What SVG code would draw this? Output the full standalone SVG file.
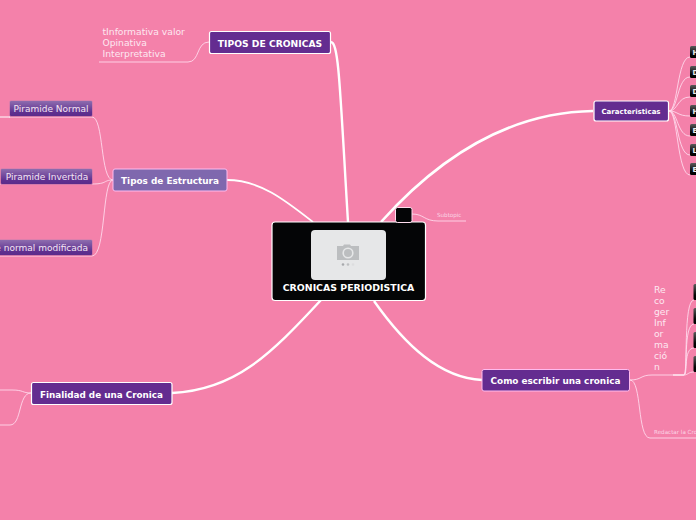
<svg xmlns="http://www.w3.org/2000/svg" width="696" height="520" viewBox="0 0 696 520">
<style>
text{font-family:"DejaVu Sans",Verdana,sans-serif}
.main{stroke:#fff;stroke-width:1.2}
.t{fill:#fff;font-weight:bold;text-anchor:middle}
.c{fill:none;stroke:#fde;stroke-width:1;stroke-opacity:.85}
.c2{fill:none;stroke:#fff;stroke-width:2.2}
.lbl{fill:#fde8f1}
.sub{stroke:#ee86ad;stroke-width:.6}
.b{fill:url(#blk)}
.k{fill:#eee;font-size:7px;font-weight:bold}
</style>
<defs>
<linearGradient id="pur" x1="0" y1="0" x2="0" y2="1"><stop offset="0" stop-color="#8f6fb0"/><stop offset=".75" stop-color="#5f2f8f"/><stop offset="1" stop-color="#5b2a8a"/></linearGradient>
<linearGradient id="blk" x1="0" y1="0" x2="0" y2="1"><stop offset="0" stop-color="#5a5a5a"/><stop offset=".7" stop-color="#050505"/><stop offset="1" stop-color="#000"/></linearGradient>
</defs>
<rect width="696" height="520" fill="#f481aa"/>
<g id="connectors">
<path class="c2" d="M331 42C339 43 340 90 348 222" style="stroke-width:2.4"/>
<path class="c2" d="M227 180C260 180 285 200 313 222" style="stroke-width:1.8"/>
<path class="c2" d="M593 111C520 112 450 145 381 222" style="stroke-width:2.6"/>
<path class="c2" d="M172 393C235 390 270 355 321 300" style="stroke-width:2.4"/>
<path class="c2" d="M482 380C440 378 405 345 374 301" style="stroke-width:2.4"/>
<path class="c" d="M209 42C196 42 200 62 188 62L99 62"/>
<path class="c" d="M113 180C100 180 104 117 92 117L9 117"/>
<path class="c2" d="M0 117L10 117" style="stroke-width:1"/>
<path class="c" d="M113 180C103 180 108 184 92 184L0 184"/>
<path class="c" d="M113 180C102 180 106 256 92 256L0 256"/>
<path class="c" d="M31 393C22 393 24 390 12 390L0 390"/>
<path class="c" d="M31 393C18 393 22 425 10 425L0 425"/>
<path class="c" d="M412 214C424 214 424 221 438 221L466 221"/>
<path class="c" d="M669 111C678 111 677 57 690 57"/>
<path class="c" d="M669 111C678 111 677 77 690 77"/>
<path class="c" d="M669 111C678 111 677 97 690 97"/>
<path class="c" d="M669 111C678 111 677 116 690 116"/>
<path class="c" d="M669 111C678 111 677 136 690 136"/>
<path class="c" d="M669 111C678 111 677 155 690 155"/>
<path class="c" d="M669 111C678 111 677 175 690 175"/>
<path class="c" d="M630 380C642 380 640 375 652 375L684 375"/>
<path class="c" d="M630 380C642 380 637 438 650 438L696 438"/>
<path class="c" d="M684 375C688 375 683 300 694 300"/>
<path class="c" d="M684 375C688 375 683 324 694 324"/>
<path class="c" d="M684 375C688 375 683 348 694 348"/>
<path class="c" d="M684 375C688 375 688 372 694 372"/>
<path class="c2" d="M673 375L684 375" style="stroke-width:1"/>
</g>
<g id="root">
<rect x="272" y="222" width="153.500" height="78.500" rx="3" fill="#040506" class="main"/>
<rect x="311" y="230" width="75" height="50" rx="4" fill="#e6e7e8"/>
<path d="M337 246h6l1-1.500h6l1 1.500h8v14h-22z" fill="#bcbec0"/>
<circle cx="348" cy="253" r="4.800" fill="none" stroke="#e6e7e8" stroke-width="1.600"/>
<circle cx="343" cy="264.500" r="1.300" fill="#a7a9ac"/><circle cx="348" cy="264.500" r="1.300" fill="#bcbec0"/><circle cx="353" cy="264.500" r="1.300" fill="#dcddde"/>
<text class="t" x="348.500" y="291" font-size="9.400">CRONICAS PERIODISTICA</text>
</g>
<g id="tipos-cronicas">
<rect x="209.500" y="31.500" width="121" height="22" rx="2" fill="#642c90" class="main"/>
<text class="t" x="270" y="46.500" font-size="9.200">TIPOS DE CRONICAS</text>
</g>
<g id="tipos-cronicas-texto">
<text class="lbl" font-size="9.200" x="102.500" y="35">tInformativa valor</text>
<text class="lbl" font-size="9.200" x="102.500" y="46">Opinativa</text>
<text class="lbl" font-size="9.200" x="102.500" y="57">Interpretativa</text>
</g>
<g id="tipos-estructura">
<rect x="113" y="169" width="114" height="22" rx="2" fill="#7f68ae" stroke="#fbe" stroke-width="1"/>
<text class="t" x="170" y="184" font-size="8.900">Tipos de Estructura</text>
</g>
<g id="piramide-normal">
<rect x="9.500" y="100.500" width="83" height="16" rx="1.500" fill="url(#pur)" class="sub"/>
<text x="51" y="112" font-size="9" fill="#f4e6f4" text-anchor="middle">Piramide Normal</text>
</g>
<g id="piramide-invertida">
<rect x="0.500" y="168.500" width="92" height="16" rx="1.500" fill="url(#pur)" class="sub"/>
<text x="47" y="180" font-size="9" fill="#f4e6f4" text-anchor="middle">Piramide Invertida</text>
</g>
<g id="piramide-modificada">
<rect x="-6" y="239.500" width="98.500" height="16" rx="1.500" fill="url(#pur)" class="sub"/>
<text x="88" y="251" font-size="9" fill="#f4e6f4" text-anchor="end">Piramide normal modificada</text>
</g>
<g id="finalidad">
<rect x="31.500" y="382.500" width="140.500" height="22" rx="2" fill="#642c90" class="main"/>
<text class="t" x="101.500" y="397.500" font-size="8.800">Finalidad de una Cronica</text>
</g>
<g id="caracteristicas">
<rect x="594" y="101" width="74.500" height="20" rx="2" fill="#642c90" class="main"/>
<text class="t" x="631" y="114" font-size="7">Caracteristicas</text>
</g>
<g id="como">
<rect x="482" y="369.500" width="147.500" height="21.500" rx="2" fill="#642c90" stroke="#fbe"/>
<text class="t" x="555.500" y="384" font-size="8.900">Como escribir una cronica</text>
</g>
<g id="subtopic-node">
<rect x="395.500" y="207.500" width="16.500" height="15" rx="2" fill="#040506" stroke="#fde"/>
</g>
<g id="subtopic"><text x="437" y="217" font-size="5.600" fill="#fbd5e5">Subtopic</text></g>
<g id="recoger">
<text class="lbl" font-size="9.200" x="654" y="293">Re</text><text class="lbl" font-size="9.200" x="654" y="304">co</text><text class="lbl" font-size="9.200" x="654" y="315">ger</text><text class="lbl" font-size="9.200" x="654" y="326">Inf</text><text class="lbl" font-size="9.200" x="654" y="337">or</text><text class="lbl" font-size="9.200" x="654" y="348">ma</text><text class="lbl" font-size="9.200" x="654" y="359">ció</text><text class="lbl" font-size="9.200" x="654" y="370">n</text>
</g>
<g id="redactar"><text x="654" y="434" font-size="5.600" fill="#fbd5e5">Redactar la Cronica</text></g>
<g id="h1"><rect class="b" x="690" y="46" width="8" height="12" rx="1.500"/><text class="k" x="692.500" y="54.500">H</text></g>
<g id="h2"><rect class="b" x="690" y="66" width="8" height="12" rx="1.500"/><text class="k" x="692.500" y="74.500">D</text></g>
<g id="h3"><rect class="b" x="690" y="85" width="8" height="12" rx="1.500"/><text class="k" x="692.500" y="93.500">D</text></g>
<g id="h4"><rect class="b" x="690" y="105" width="8" height="12" rx="1.500"/><text class="k" x="692.500" y="113.500">H</text></g>
<g id="h5"><rect class="b" x="690" y="124" width="8" height="12" rx="1.500"/><text class="k" x="692.500" y="132.500">E</text></g>
<g id="h6"><rect class="b" x="690" y="144" width="8" height="12" rx="1.500"/><text class="k" x="692.500" y="152.500">L</text></g>
<g id="h7"><rect class="b" x="690" y="163" width="8" height="12" rx="1.500"/><text class="k" x="692.500" y="171.500">E</text></g>
<g id="r1"><rect class="b" x="693.500" y="284" width="6" height="16" rx="1.500"/></g>
<g id="r2"><rect class="b" x="693.500" y="308" width="6" height="16" rx="1.500"/></g>
<g id="r3"><rect class="b" x="693.500" y="332" width="6" height="16" rx="1.500"/></g>
<g id="r4"><rect class="b" x="693.500" y="356" width="6" height="16" rx="1.500"/></g>
</svg>
